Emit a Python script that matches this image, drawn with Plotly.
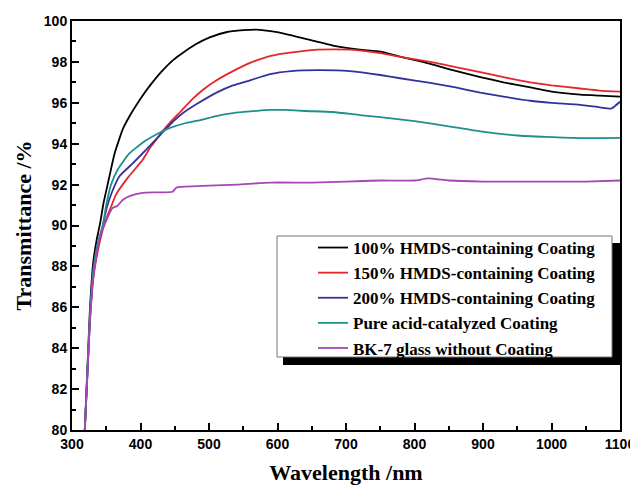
import plotly.graph_objects as go

# ---- data ----
wl_100 = [318, 326, 331, 336, 341, 346, 352, 362, 374, 385, 400, 414, 430, 448, 462, 480, 501, 525, 550, 570, 590, 614, 650, 681, 720, 750, 780, 812, 850, 896, 930, 969, 1000, 1042, 1070, 1100]
t_100 = [79.5, 85.8, 88.2, 89.3, 90.1, 91.1, 92.0, 93.5, 94.7, 95.4, 96.2, 96.85, 97.5, 98.1, 98.45, 98.85, 99.2, 99.45, 99.55, 99.58, 99.5, 99.35, 99.05, 98.8, 98.6, 98.5, 98.25, 98.0, 97.65, 97.26, 97.0, 96.75, 96.55, 96.4, 96.35, 96.3]

wl_150 = [318, 326, 331, 338, 345, 352, 358, 364, 383, 403, 414, 423, 432, 445, 458, 475, 490, 511, 535, 560, 585, 610, 658, 706, 750, 779, 823, 860, 896, 930, 969, 1000, 1042, 1070, 1100]
t_150 = [79.5, 85.2, 87.4, 88.8, 89.8, 90.5, 91.0, 91.5, 92.4, 93.2, 93.8, 94.2, 94.6, 95.1, 95.55, 96.15, 96.6, 97.1, 97.55, 97.95, 98.25, 98.42, 98.6, 98.6, 98.43, 98.25, 98.0, 97.75, 97.5, 97.25, 97.0, 96.85, 96.7, 96.6, 96.55]

wl_200 = [318, 326, 331, 338, 345, 351, 358, 369, 389, 408, 428, 445, 462, 485, 511, 535, 560, 589, 620, 658, 706, 750, 779, 823, 860, 896, 930, 969, 1000, 1042, 1070, 1087, 1093, 1100]
t_200 = [79.5, 85.3, 87.6, 89.0, 90.0, 90.9, 91.6, 92.4, 93.05, 93.7, 94.4, 95.0, 95.5, 96.0, 96.5, 96.85, 97.1, 97.4, 97.55, 97.6, 97.55, 97.36, 97.2, 96.97, 96.75, 96.5, 96.3, 96.1, 96.0, 95.9, 95.78, 95.72, 95.85, 96.05]

wl_acid = [318, 326, 331, 338, 345, 350, 357, 367, 383, 403, 423, 443, 465, 487, 510, 535, 560, 589, 610, 640, 681, 720, 750, 800, 850, 896, 950, 993, 1042, 1070, 1100]
t_acid = [79.5, 85.5, 87.8, 89.2, 90.0, 91.0, 92.0, 92.75, 93.5, 94.05, 94.45, 94.77, 95.0, 95.15, 95.35, 95.5, 95.58, 95.65, 95.65, 95.6, 95.55, 95.4, 95.3, 95.1, 94.85, 94.6, 94.4, 94.33, 94.27, 94.27, 94.28]

wl_bk7 = [318, 326, 331, 338, 344, 347, 352, 359, 366, 374, 385, 403, 425, 447, 452, 466, 500, 541, 589, 650, 700, 750, 800, 820, 850, 900, 950, 1000, 1050, 1100]
t_bk7 = [79.5, 85.3, 87.4, 89.0, 89.8, 90.0, 90.4, 90.85, 90.95, 91.25, 91.45, 91.6, 91.62, 91.65, 91.85, 91.9, 91.95, 92.0, 92.1, 92.1, 92.15, 92.2, 92.2, 92.3, 92.2, 92.15, 92.15, 92.15, 92.15, 92.2]

names = ["100% HMDS-containing Coating", "150% HMDS-containing Coating",
         "200% HMDS-containing Coating", "Pure acid-catalyzed Coating",
         "BK-7 glass without Coating"]
colors = ["#000000", "#e2262b", "#32329e", "#1f8f8c", "#a646b6"]
series = [(wl_100, t_100), (wl_150, t_150), (wl_200, t_200), (wl_acid, t_acid), (wl_bk7, t_bk7)]

fig = go.Figure()
for (x, y), n, c in zip(series, names, colors):
    fig.add_trace(go.Scatter(x=x, y=y, mode="lines", name=n,
                             line=dict(color=c, width=1.8, shape="spline", smoothing=0.4)))

# page body has an 8px margin; figure is placed at (8, 8) in the window
OFF = 8
W, H = 630, 480
L, R, T, B = 64, 18, 13, 58
pw, ph = W - L - R, H - T - B

def px(xp):  # absolute window pixel -> paper x
    return (xp - OFF - L) / pw

def py(yp):  # absolute window pixel -> paper y
    return (OFF + H - B - yp) / ph

# legend shadow and box
fig.add_shape(type="rect", xref="paper", yref="paper", x0=px(283), x1=px(621), y0=py(365), y1=py(243),
              fillcolor="black", line=dict(width=0), layer="above")
fig.add_shape(type="rect", xref="paper", yref="paper", x0=px(277), x1=px(612), y0=py(357), y1=py(236),
              fillcolor="white", line=dict(color="#777777", width=1), layer="above")

tickfont = dict(family="Liberation Sans, Arial", size=14, color="black", weight="bold")
titlefont = dict(family="Liberation Serif, Times New Roman", size=22, color="black", weight="bold")

fig.update_layout(
    width=W, height=H,
    margin=dict(l=L, r=R, t=T, b=B, autoexpand=False),
    paper_bgcolor="white", plot_bgcolor="white",
    showlegend=True,
    legend=dict(x=px(313), y=py(230), xanchor="left", yanchor="top",
                bgcolor="rgba(0,0,0,0)", borderwidth=0, tracegroupgap=0,
                font=dict(family="Liberation Serif, Times New Roman", size=17, color="black", weight="bold")),
    xaxis=dict(range=[300, 1100], dtick=100, tick0=300, showgrid=False, zeroline=False,
               showline=True, linecolor="black", linewidth=2, mirror=True,
               ticks="inside", ticklen=7, tickwidth=1.5, tickcolor="black",
               minor=dict(dtick=50, ticks="inside", ticklen=4, tickwidth=1.5, tickcolor="black"),
               tickfont=tickfont,
               title=dict(text="Wavelength /nm", font=titlefont, standoff=14)),
    yaxis=dict(range=[80, 100], dtick=2, showgrid=False, zeroline=False,
               showline=True, linecolor="black", linewidth=2, mirror=True,
               ticks="inside", ticklen=7, tickwidth=1.5, tickcolor="black",
               minor=dict(dtick=1, ticks="inside", ticklen=4, tickwidth=1.5, tickcolor="black"),
               tickfont=tickfont,
               title=dict(text="Transmittance /%", font=titlefont, standoff=6)),
)

fig.write_html("out.html")
